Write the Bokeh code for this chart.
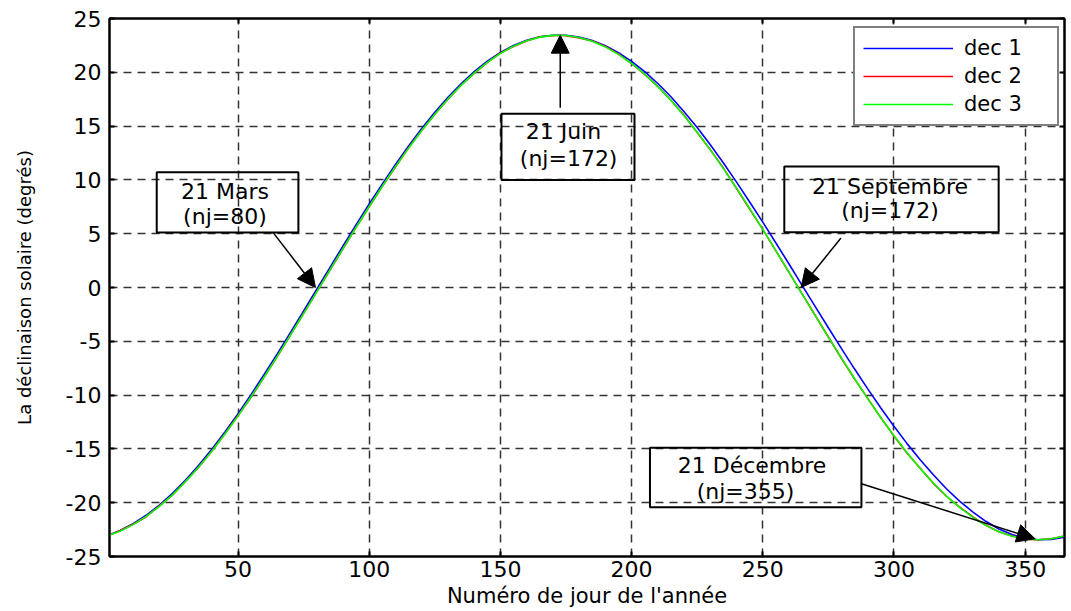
from bokeh.plotting import figure
from bokeh.models import (Legend, LegendItem, Arrow, NormalHead, BoxAnnotation,
                          Label, LinearAxis, FixedTicker, Range1d, CustomJSTickFormatter)
from bokeh.embed import file_html
from bokeh.resources import INLINE

# ---- data ----
days = [1, 5, 10, 15, 20, 25, 30, 35, 40, 45, 50, 55, 60, 65, 70, 75, 80, 85,
        90, 95, 100, 105, 110, 115, 120, 125, 130, 135, 140, 145, 150, 155,
        160, 165, 170, 172, 175, 180, 185, 190, 195, 200, 205, 210, 215, 220,
        225, 230, 235, 240, 245, 250, 255, 260, 265, 270, 275, 280, 285, 290,
        295, 300, 305, 310, 315, 320, 325, 330, 335, 340, 345, 350, 355, 360,
        365]

dec1 = [-22.97, -22.59, -21.96, -21.17, -20.22, -19.13, -17.89, -16.52, -15.03,
        -13.42, -11.72, -9.93, -8.06, -6.15, -4.17, -2.18, -0.16, 1.85, 3.86,
        5.84, 7.76, 9.63, 11.44, 13.15, 14.78, 16.29, 17.67, 18.93, 20.06,
        21.03, 21.84, 22.50, 22.98, 23.30, 23.44, 23.45, 23.44, 23.28, 22.96,
        22.47, 21.82, 21.01, 20.06, 18.96, 17.73, 16.34, 14.86, 13.26, 11.57,
        9.79, 7.95, 6.07, 4.14, 2.18, 0.20, -1.78, -3.74, -5.68, -7.58, -9.42,
        -11.20, -12.90, -14.51, -16.01, -17.40, -18.70, -19.85, -20.85, -21.73,
        -22.44, -22.96, -23.30, -23.44, -23.41, -23.20]

dec2 = [-23.0, -22.6, -22.0, -21.3, -20.3, -19.3, -18.0, -16.7, -15.2, -13.6,
        -11.9, -10.2, -8.3, -6.4, -4.4, -2.4, -0.4, 1.6, 3.6, 5.6, 7.5, 9.4,
        11.2, 13.0, 14.6, 16.1, 17.5, 18.8, 19.9, 20.9, 21.8, 22.4, 22.9, 23.3,
        23.4, 23.45, 23.4, 23.2, 22.9, 22.4, 21.7, 20.8, 19.8, 18.7, 17.4,
        16.0, 14.4, 12.8, 11.1, 9.2, 7.3, 5.4, 3.4, 1.4, -0.6, -2.6, -4.6,
        -6.6, -8.5, -10.3, -12.1, -13.8, -15.4, -16.8, -18.2, -19.4, -20.4,
        -21.3, -22.1, -22.7, -23.1, -23.4, -23.45, -23.35, -23.1]

dec3 = [-23.01, -22.65, -22.04, -21.27, -20.34, -19.27, -18.04, -16.69, -15.21,
        -13.62, -11.93, -10.15, -8.29, -6.38, -4.41, -2.42, -0.40, 1.61, 3.62,
        5.60, 7.53, 9.41, 11.23, 12.95, 14.59, 16.11, 17.51, 18.79, 19.93,
        20.92, 21.75, 22.43, 22.93, 23.27, 23.43, 23.45, 23.42, 23.24, 22.89,
        22.36, 21.67, 20.82, 19.82, 18.67, 17.39, 15.96, 14.43, 12.79, 11.05,
        9.23, 7.34, 5.40, 3.42, 1.41, -0.61, -2.62, -4.61, -6.57, -8.48,
        -10.33, -12.10, -13.78, -15.36, -16.83, -18.17, -19.38, -20.44, -21.35,
        -22.11, -22.70, -23.12, -23.37, -23.45, -23.35, -23.09]

series_names = ["dec 1", "dec 2", "dec 3"]
series_colors = ["#0000FF", "#FF0000", "#00FF00"]

x_ticks = [50, 100, 150, 200, 250, 300, 350]
y_ticks = [-25, -20, -15, -10, -5, 0, 5, 10, 15, 20, 25]

FONT = "DejaVu Sans"

p = figure(width=1071, height=611, output_backend="svg", toolbar_location=None,
           x_range=Range1d(1, 365), y_range=Range1d(-25, 25),
           min_border_left=109, min_border_right=7, min_border_top=18,
           min_border_bottom=55, background_fill_color="white",
           border_fill_color="white")

p.outline_line_color = "black"
p.outline_line_width = 2

plain = CustomJSTickFormatter(code="return tick.toString();")
blank = CustomJSTickFormatter(code="return '';")

# axes
for ax in (p.xaxis[0], p.yaxis[0]):
    ax.axis_line_color = "black"
    ax.axis_line_width = 2
    ax.major_tick_in = 5
    ax.major_tick_out = 0
    ax.minor_tick_line_color = None
    ax.major_tick_line_width = 2
    ax.major_label_text_font = FONT
    ax.major_label_text_font_size = "22px"
    ax.major_label_text_color = "black"
    ax.axis_label_text_font = FONT
    ax.axis_label_text_font_style = "normal"
    ax.axis_label_text_color = "black"
    ax.formatter = plain

p.xaxis.ticker = FixedTicker(ticks=x_ticks)
p.yaxis.ticker = FixedTicker(ticks=y_ticks)
p.xaxis.axis_label = "Numéro de jour de l'année"
p.xaxis.axis_label_text_font_size = "21px"
p.xaxis.axis_label_standoff = 4
p.xaxis.major_label_standoff = 4
p.yaxis.axis_label = "La déclinaison solaire (degrés)"
p.yaxis.axis_label_text_font_size = "18px"
p.yaxis.axis_label_standoff = 28
p.yaxis.major_label_standoff = 8

# box ticks on top/right
top_ax = LinearAxis(ticker=FixedTicker(ticks=x_ticks), formatter=blank,
                    major_tick_in=5, major_tick_out=0, major_label_standoff=0,
                    minor_tick_line_color=None, axis_line_width=2, major_tick_line_width=2)
right_ax = LinearAxis(ticker=FixedTicker(ticks=y_ticks), formatter=blank,
                      major_tick_in=5, major_tick_out=0, major_label_standoff=0,
                      minor_tick_line_color=None, axis_line_width=2, major_tick_line_width=2)
p.add_layout(top_ax, "above")
p.add_layout(right_ax, "right")

# grid
for g in (p.xgrid[0], p.ygrid[0]):
    g.grid_line_color = "#333333"
    g.grid_line_dash = "8 6"
    g.grid_line_width = 1.5
    g.grid_line_alpha = 1.0
p.xgrid.ticker = FixedTicker(ticks=x_ticks)
p.ygrid.ticker = FixedTicker(ticks=y_ticks)

# curves
renderers = []
for vals, name, col in zip([dec1, dec2, dec3], series_names, series_colors):
    r = p.line(days, vals, line_color=col, line_width=1.6)
    renderers.append((name, r))

legend = Legend(items=[LegendItem(label=n, renderers=[r]) for n, r in renderers],
                location=(744, 430), border_line_color="black", border_line_width=2,
                background_fill_color="white", background_fill_alpha=1.0,
                label_text_font=FONT, label_text_font_size="21px",
                label_text_color="black",
                glyph_width=90, glyph_height=20, label_standoff=11,
                label_width=85, label_height=20, padding=8, spacing=4, margin=0)
p.add_layout(legend)

# annotations
def box(left, right, bottom, top):
    p.add_layout(BoxAnnotation(left=left, right=right, bottom=bottom, top=top,
                               fill_alpha=0, line_color="black", line_width=2,
                               line_alpha=1))

def txt(x, y, s):
    p.add_layout(Label(x=x, y=y, text=s, text_font=FONT, text_font_size="22px",
                       text_align="center", text_baseline="middle",
                       text_color="black"))

def arrow(x0, y0, x1, y1):
    p.add_layout(Arrow(end=NormalHead(size=18, fill_color="black", line_color="black"),
                       x_start=x0, y_start=y0, x_end=x1, y_end=y1,
                       line_color="black", line_width=1.5))

box(19, 73, 5.1, 10.7)
txt(45, 8.9, "21 Mars")
txt(45, 6.6, "(nj=80)")
arrow(63.4, 5.1, 79.5, 0.0)

box(150.4, 201.1, 10.0, 16.15)
txt(174, 14.5, "21 Juin")
txt(176, 12.0, "(nj=172)")
arrow(172.8, 16.7, 172.8, 23.45)

box(258.2, 339.9, 5.14, 11.25)
txt(298.5, 9.4, "21 Septembre")
txt(298.5, 7.15, "(nj=172)")
arrow(279.8, 4.6, 264.6, 0.0)

box(207.0, 287.6, -20.42, -14.9)
txt(245.9, -16.5, "21 Décembre")
txt(243.4, -18.95, "(nj=355)")
arrow(287.6, -18.24, 353.8, -23.36)

open("out.html", "w").write(file_html(p, INLINE))
